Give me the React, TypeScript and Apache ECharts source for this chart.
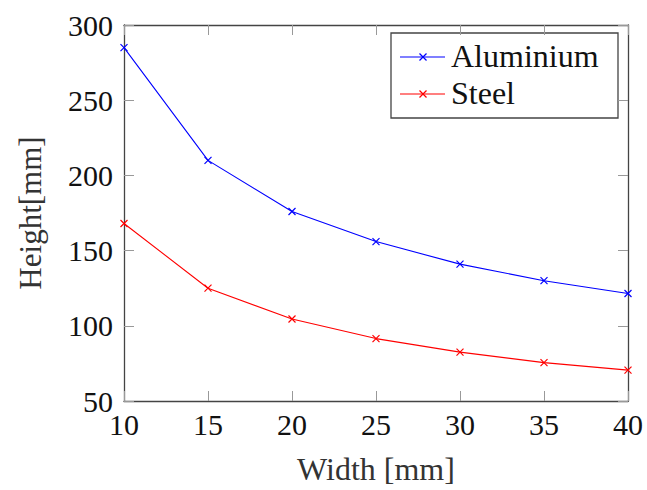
import React, { useEffect, useRef } from "react";
import * as echarts from "echarts";

const widths = [10, 15, 20, 25, 30, 35, 40];
const aluminium = [285, 210, 176, 156, 141, 130, 121.5];
const steel = [168, 125, 104.5, 91.5, 82.5, 75.5, 70.5];
const seriesNames = ["Aluminium", "Steel"];
const seriesColors = ["#0000ff", "#ff0000"];

const FONT = "Liberation Serif";
const CROSS = "path://M0,0L10,10M10,0L0,10";

export default function App() {
  const ref = useRef<HTMLDivElement>(null);
  useEffect(() => {
    if (!ref.current) return;
    const chart = echarts.init(ref.current, null, { renderer: "svg" });
    const frame = { show: true, lineStyle: { color: "#444", width: 1.3 } };
    const tickIn = (show: boolean) => ({
      show,
      inside: true,
      length: 10,
      lineStyle: { color: "#999", width: 1 },
    });
    const mk = (name: string, ys: number[], color: string) => ({
      name,
      type: "line",
      data: widths.map((w, i) => [w, ys[i]]),
      symbol: CROSS,
      symbolSize: 7,
      showSymbol: true,
      lineStyle: { color, width: 1.1 },
      itemStyle: { color, borderColor: color, borderWidth: 1.2 },
    });

    // Legend drawn as graphic elements (pgfplots style)
    const legendRows = [57, 94];
    const legendChildren: any[] = [
      {
        type: "rect",
        shape: { x: 391, y: 33, width: 227, height: 85 },
        style: { fill: "#fff", stroke: "#444", lineWidth: 1.3 },
        z: 0,
      },
    ];
    seriesNames.forEach((n, i) => {
      const y = legendRows[i];
      const c = seriesColors[i];
      legendChildren.push(
        { type: "line", shape: { x1: 400, y1: y, x2: 445, y2: y }, style: { stroke: c, lineWidth: 1.1 }, z: 1 },
        { type: "line", shape: { x1: 419.5, y1: y - 3.5, x2: 426.5, y2: y + 3.5 }, style: { stroke: c, lineWidth: 1.2 }, z: 1 },
        { type: "line", shape: { x1: 419.5, y1: y + 3.5, x2: 426.5, y2: y - 3.5 }, style: { stroke: c, lineWidth: 1.2 }, z: 1 },
        {
          type: "text",
          style: {
            x: 451,
            y: y - 1.5,
            text: n,
            font: "32px Liberation Serif",
            fill: "#111",
            textAlign: "left",
            textVerticalAlign: "middle",
          },
          z: 1,
        }
      );
    });

    chart.setOption({
      animation: false,
      textStyle: { fontFamily: FONT },
      grid: { left: 124, top: 25, right: 19, bottom: 86 },
      graphic: [{ type: "group", children: legendChildren, z: 100 }],
      xAxis: [
        {
          type: "value",
          min: 10,
          max: 40,
          interval: 5,
          name: "Width [mm]",
          nameLocation: "middle",
          nameGap: 52,
          nameTextStyle: { fontFamily: FONT, fontSize: 32, color: "#333" },
          axisLine: frame,
          axisTick: tickIn(true),
          axisLabel: { fontFamily: FONT, fontSize: 30, color: "#111", margin: 8 },
          splitLine: { show: false },
        },
        {
          type: "value",
          position: "top",
          min: 10,
          max: 40,
          interval: 5,
          axisLine: frame,
          axisTick: tickIn(true),
          axisLabel: { show: false },
          splitLine: { show: false },
        },
      ],
      yAxis: [
        {
          type: "value",
          min: 50,
          max: 300,
          interval: 50,
          name: "Height[mm]",
          nameLocation: "middle",
          nameGap: 78,
          nameTextStyle: { fontFamily: FONT, fontSize: 31, color: "#333" },
          axisLine: frame,
          axisTick: tickIn(true),
          axisLabel: { fontFamily: FONT, fontSize: 30, color: "#111", margin: 11 },
          splitLine: { show: false },
        },
        {
          type: "value",
          position: "right",
          min: 50,
          max: 300,
          interval: 50,
          axisLine: frame,
          axisTick: tickIn(true),
          axisLabel: { show: false },
          splitLine: { show: false },
        },
      ],
      series: [
        mk(seriesNames[0], aluminium, seriesColors[0]),
        mk(seriesNames[1], steel, seriesColors[1]),
      ],
    });
    return () => chart.dispose();
  }, []);
  return (
    <div
      ref={ref}
      style={{ position: "fixed", left: 0, top: 0, width: 647, height: 490, background: "#fff" }}
    />
  );
}
